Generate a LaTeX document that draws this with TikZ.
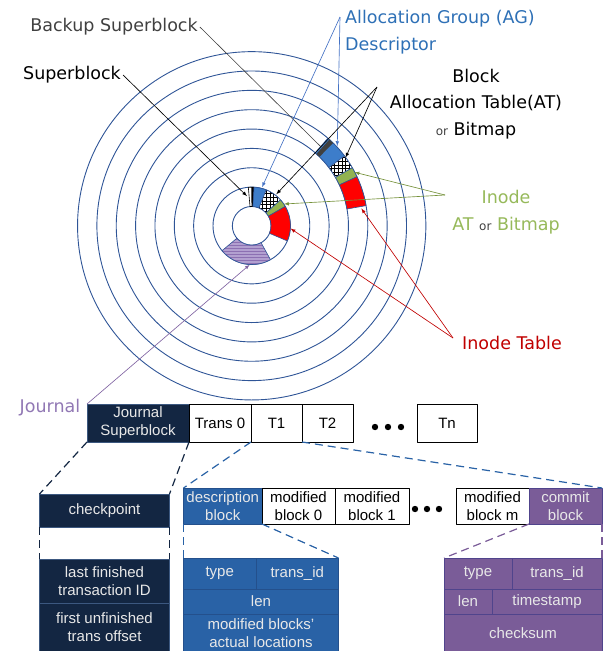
\documentclass[tikz,border=0pt]{standalone}
\usepackage{fontspec}
\setmainfont{Liberation Sans}
\newfontfamily\comicfont{DejaVu Sans}
\usetikzlibrary{patterns}

\definecolor{track}{RGB}{47,85,151}
\definecolor{agblue}{RGB}{61,125,202}
\definecolor{agtext}{RGB}{46,112,182}
\definecolor{agline}{RGB}{68,114,196}
\definecolor{inodegreen}{RGB}{146,178,80}
\definecolor{inodetext}{RGB}{150,185,90}
\definecolor{inodeline}{RGB}{118,146,60}
\definecolor{tablered}{RGB}{192,0,0}
\definecolor{jtext}{RGB}{145,120,180}
\definecolor{jline}{RGB}{128,100,162}
\definecolor{jlight}{RGB}{178,160,208}
\definecolor{jstripe}{RGB}{140,112,178}
\definecolor{darkbar}{RGB}{64,64,64}
\definecolor{navy}{RGB}{19,38,66}
\definecolor{navyedge}{RGB}{60,88,128}
\definecolor{descblue}{RGB}{41,98,166}
\definecolor{blueedge}{RGB}{36,80,140}
\definecolor{commitpurple}{RGB}{122,92,152}
\definecolor{purpleedge}{RGB}{80,68,140}
\definecolor{boxtext}{RGB}{232,232,232}

% square grid for the allocation tables
\pgfdeclarepatternformonly{gridhatch}{\pgfqpoint{-1pt}{-1pt}}{\pgfqpoint{4pt}{4pt}}{\pgfqpoint{3.6pt}{3.6pt}}{%
  \pgfsetlinewidth{0.9pt}
  \pgfpathmoveto{\pgfqpoint{0pt}{0pt}}\pgfpathlineto{\pgfqpoint{3.6pt}{0pt}}
  \pgfpathmoveto{\pgfqpoint{0pt}{0pt}}\pgfpathlineto{\pgfqpoint{0pt}{3.6pt}}
  \pgfusepath{stroke}}

% annular piece: style, inner r, outer r, from angle, to angle
\newcommand{\ringseg}[5]{%
  \path[#1] (#4:#2pt) -- (#4:#3pt) arc[start angle=#4, end angle=#5, radius=#3pt]
    -- (#5:#2pt) arc[start angle=#5, end angle=#4, radius=#2pt] -- cycle;}

\tikzset{
  track line/.style={draw=track, line width=0.9pt},
  seg/.style={draw=track, line width=0.6pt},
  lbl/.style={font=\comicfont\fontsize{17.5}{26.5}\selectfont, inner sep=2pt},
  cell/.style={draw, rectangle, outer sep=0pt, inner sep=1pt, align=center,
    font=\fontsize{15}{18}\selectfont, line width=0.8pt},
  navycell/.style={cell, fill=navy, draw=navyedge, text=boxtext},
  bluecell/.style={cell, fill=descblue, draw=blueedge, text=boxtext},
  purplecell/.style={cell, fill=commitpurple, draw=purpleedge, text=boxtext},
  whitecell/.style={cell, fill=white, draw=black},
  navydash/.style={draw=navy, line width=1.2pt, dash pattern=on 8pt off 5pt},
  bluedash/.style={draw=descblue, line width=1.2pt, dash pattern=on 8pt off 5pt},
  purpledash/.style={draw=commitpurple, line width=1.2pt, dash pattern=on 8pt off 5pt},
  pointer/.style={->, line width=0.65pt},
}
\newcommand{\orword}{{\fontsize{12}{12}\selectfont\color{darkbar}or}}

\begin{document}
\begin{tikzpicture}[>=latex,line join=bevel,x=1pt,y=-1pt]
\useasboundingbox (0,0) rectangle (605,651);
%% disk
\begin{scope}[shift={(251.7,225.8)}]
  \foreach \k in {1,...,9} \draw[track line] (0,0) circle[radius=\k*19.35pt];
  % inner group
  \ringseg{seg, draw=black, fill=white}{19.35}{38.7}{86.5}{95}
  \ringseg{fill=black}{19.35}{38.7}{86.5}{90.5}
  \ringseg{seg, fill=agblue}{19.35}{38.7}{68}{86.5}
  \ringseg{fill=white}{19.35}{38.7}{42}{68}
  \ringseg{seg, pattern=gridhatch, pattern color=black}{19.35}{38.7}{42}{68}
  \ringseg{seg, fill=inodegreen}{19.35}{38.7}{30}{42}
  \ringseg{seg, fill=red}{19.35}{38.7}{-23}{30}
  \ringseg{fill=jlight}{19.35}{38.7}{-140}{-61}
  \ringseg{seg, pattern=horizontal lines, pattern color=jstripe}{19.35}{38.7}{-140}{-61}
  % outer group
  \ringseg{seg, fill=agblue}{96.75}{116.1}{37}{49}
  \ringseg{fill=darkbar}{96.75}{116.1}{45.5}{48}
  \ringseg{fill=white}{96.75}{116.1}{30}{37}
  \ringseg{seg, pattern=gridhatch, pattern color=black}{96.75}{116.1}{30}{37}
  \ringseg{seg, fill=inodegreen}{96.75}{116.1}{25}{30}
  \ringseg{seg, fill=red}{96.75}{116.1}{10}{25}
  % arrow targets
  \coordinate (seg_sb) at (99:30pt);
  \coordinate (seg_backup) at (48.5:105pt);
  \coordinate (seg_ag_in) at (75:40pt);
  \coordinate (seg_ag_out) at (43:117pt);
  \coordinate (seg_bat_in) at (52:40pt);
  \coordinate (seg_bat_out) at (36:116pt);
  \coordinate (seg_iat_in) at (34:39pt);
  \coordinate (seg_iat_out) at (27.5:116pt);
  \coordinate (seg_it_in) at (-4:39pt);
  \coordinate (seg_it_out) at (9:111pt);
  \coordinate (seg_journal) at (-93:39pt);
\end{scope}
%% labels
\node (lbl_backup) at (114,27) [lbl, text=darkbar] {Backup Superblock};
\node (lbl_sb) at (72,75) [lbl] {Superblock};
\node (lbl_ag) at (343,32) [lbl, anchor=west, align=left, text=agtext] {Allocation Group (AG)\\Descriptor};
\node (lbl_bat) at (476,104) [lbl, align=center] {Block\\Allocation Table(AT)\\\orword{} Bitmap};
\node (lbl_iat) at (506,212) [lbl, align=center, text=inodetext] {Inode\\AT \orword{} Bitmap};
\node (lbl_it) at (512,343) [lbl, text=tablered] {Inode Table};
\node (lbl_journal) at (50,408) [lbl, text=jtext] {Journal};
\coordinate (ag_apex) at (340,17);
\coordinate (bat_apex) at (377,87);
\coordinate (iat_apex) at (445,195);
\coordinate (it_apex) at (453,338);
%% journal row
\node (js) at (138,423) [navycell, minimum width=102pt, minimum height=38pt] {Journal\\Superblock};
\node (trans0) at (220,423) [whitecell, minimum width=62pt, minimum height=38pt] {Trans 0};
\node (t1) at (276.5,423) [whitecell, minimum width=51pt, minimum height=38pt] {T1};
\node (t2) at (327.5,423) [whitecell, minimum width=51pt, minimum height=38pt] {T2};
\node (tn) at (447,423) [whitecell, minimum width=60pt, minimum height=38pt] {Tn};
\foreach \x in {375,388,401} \fill (\x,427) circle[radius=3.2pt];
%% journal superblock fields
\node (ckpt) at (104.5,510.5) [navycell, minimum width=130pt, minimum height=33pt] {checkpoint};
\node (lastfin) at (104.5,581) [navycell, minimum width=130pt, minimum height=44pt] {last finished\\transaction ID};
\node (firstun) at (104.5,627.5) [navycell, minimum width=130pt, minimum height=49pt] {first unfinished\\trans offset};
%% transaction blocks
\node (desc) at (222.75,506) [bluecell, minimum width=78.5pt, minimum height=36pt] {description\\block};
\node (mod0) at (298.5,506) [whitecell, minimum width=73pt, minimum height=36pt] {modified\\block 0};
\node (mod1) at (372,506) [whitecell, minimum width=74pt, minimum height=36pt] {modified\\block 1};
\foreach \x in {415,427,439} \fill (\x,509) circle[radius=3.2pt];
\node (modm) at (492.5,506) [whitecell, minimum width=73pt, minimum height=36pt] {modified\\block m};
\node (commit) at (565.5,506) [purplecell, minimum width=73pt, minimum height=36pt] {commit\\block};
%% description block fields
\node (btype) at (219.75,573.5) [bluecell, minimum width=72.5pt, minimum height=31pt] {type};
\node (btid) at (297.25,573.5) [bluecell, minimum width=82.5pt, minimum height=31pt] {trans\_id};
\node (blen) at (261,601.5) [bluecell, minimum width=155pt, minimum height=25pt] {len};
\node (bloc) at (261,633) [bluecell, minimum width=155pt, minimum height=38pt] {modified blocks'\\actual locations};
%% commit block fields
\node (ptype) at (478,573.5) [purplecell, minimum width=68pt, minimum height=31pt] {type};
\node (ptid) at (557,573.5) [purplecell, minimum width=90pt, minimum height=31pt] {trans\_id};
\node (plen) at (468,601.5) [purplecell, minimum width=48pt, minimum height=25pt] {len};
\node (pts) at (547,601.5) [purplecell, minimum width=110pt, minimum height=25pt] {timestamp};
\node (pcs) at (523,633) [purplecell, minimum width=158pt, minimum height=38pt] {checksum};
%% pointers
\draw [darkbar, line width=0.6pt] (lbl_backup.east) -- (seg_backup);
\draw [black, pointer] (lbl_sb.east) -- (seg_sb);
\draw [agline, pointer] (ag_apex) -- (seg_ag_in);
\draw [agline, pointer] (ag_apex) -- (seg_ag_out);
\draw [black, pointer] (bat_apex) -- (seg_bat_in);
\draw [black, pointer] (bat_apex) -- (seg_bat_out);
\draw [inodeline, pointer] (iat_apex) -- (seg_iat_in);
\draw [inodeline, pointer] (iat_apex) -- (seg_iat_out);
\draw [tablered, pointer] (it_apex) -- (seg_it_in);
\draw [tablered, pointer] (it_apex) -- (seg_it_out);
\draw [jline, pointer] (js.north west) -- (seg_journal);
%% zoom lines
\draw [navydash] (js.south west) -- (ckpt.north west);
\draw [navydash] (js.south east) -- (ckpt.north east);
\draw [navydash] (ckpt.south west) -- (lastfin.north west);
\draw [navydash] (ckpt.south east) -- (lastfin.north east);
\draw [bluedash] (trans0.south east) -- (desc.north west);
\draw [bluedash] (t1.south east) -- (commit.north east);
\draw [bluedash] (desc.south west) -- (btype.north west);
\draw [bluedash] (desc.south east) -- (btid.north east);
\draw [purpledash] (commit.south west) -- (ptype.north west);
\draw [purpledash] (commit.south east) -- (ptid.north east);
%
\end{tikzpicture}
\end{document}
